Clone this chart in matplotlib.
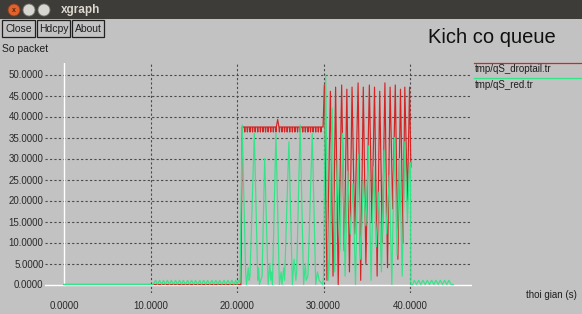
import matplotlib
matplotlib.use("Agg")
import matplotlib.pyplot as plt
from matplotlib.patches import Rectangle, Ellipse
from matplotlib.lines import Line2D

# ---------------- data ----------------
title = "Kich co queue"
y_label = "So packet"
x_label = "thoi gian (s)"
series_names = ["tmp/qS_droptail.tr", "tmp/qS_red.tr"]
x_ticks = [0, 10, 20, 30, 40]
y_ticks = [0, 5, 10, 15, 20, 25, 30, 35, 40, 45, 50]

droptail_x = [0.0, 20.45, 20.6,
              20.85, 20.9, 20.95, 21.15, 21.2, 21.25, 21.45, 21.5, 21.55, 21.75, 21.8, 21.85,
              22.05, 22.1, 22.15, 22.35, 22.4, 22.45, 22.65, 22.7, 22.75, 22.95, 23.0, 23.05,
              23.25, 23.3, 23.35, 23.55, 23.6, 23.65, 23.85, 23.9, 23.95, 24.15, 24.2, 24.25,
              24.45, 24.5, 24.55, 24.7, 24.85, 24.9, 24.95, 25.15, 25.2, 25.25,
              25.45, 25.5, 25.55, 25.75, 25.8, 25.85, 26.05, 26.1, 26.15, 26.35, 26.4, 26.45,
              26.65, 26.7, 26.75, 26.95, 27.0, 27.05, 27.25, 27.3, 27.35, 27.55, 27.6, 27.65,
              27.85, 27.9, 27.95, 28.15, 28.2, 28.25, 28.45, 28.5, 28.55, 28.75, 28.8, 28.85,
              29.05, 29.1, 29.15, 29.35, 29.4, 29.45, 29.65, 29.7, 29.75, 29.95,
              30.1, 30.4, 30.8, 31.1, 31.4, 31.7, 32.1, 32.4, 32.7, 33.0, 33.3, 33.6,
              34.0, 34.3, 34.6, 34.9, 35.3, 35.6, 35.9, 36.2, 36.5, 36.8, 37.1, 37.4,
              37.7, 38.0, 38.3, 38.6, 38.9, 39.2, 39.4, 39.7, 39.95, 40.1]
droptail_y = [0.0, 0.0, 37.5,
              37.5, 36.3, 37.5, 37.5, 36.3, 37.5, 37.5, 36.3, 37.5, 37.5, 36.3, 37.5,
              37.5, 36.3, 37.5, 37.5, 36.3, 37.5, 37.5, 36.3, 37.5, 37.5, 36.3, 37.5,
              37.5, 36.3, 37.5, 37.5, 36.3, 37.5, 37.5, 36.3, 37.5, 37.5, 36.3, 37.5,
              37.5, 36.3, 37.5, 39.3, 37.5, 36.3, 37.5, 37.5, 36.3, 37.5,
              37.5, 36.3, 37.5, 37.5, 36.3, 37.5, 37.5, 36.3, 37.5, 37.5, 36.3, 37.5,
              37.5, 36.3, 37.5, 37.5, 36.3, 37.5, 37.5, 36.3, 37.5, 37.5, 36.3, 37.5,
              37.5, 36.3, 37.5, 37.5, 36.3, 37.5, 37.5, 36.3, 37.5, 37.5, 36.3, 37.5,
              37.5, 36.3, 37.5, 37.5, 36.3, 37.5, 37.5, 36.3, 37.5, 37.5,
              47.5, 1.0, 46.0, 2.0, 47.0, 0.0, 47.5, 8.0, 46.5, 3.0, 47.0, 12.0,
              48.0, 1.0, 47.0, 5.0, 47.5, 15.0, 47.0, 2.0, 46.0, 10.0, 48.0, 4.0,
              47.0, 18.0, 47.5, 6.0, 46.5, 10.0, 47.0, 20.0, 47.0, 28.0]

red_x = [0.0, 10.0, 10.3,
         10.6, 10.8, 11.05, 11.3, 11.5, 11.7, 11.95, 12.2, 12.4, 12.65, 12.9, 13.1,
         13.35, 13.6, 13.8, 14.05, 14.3, 14.5, 14.75, 15.0, 15.2, 15.45, 15.7, 15.9,
         16.15, 16.4, 16.6, 16.85, 17.1, 17.3, 17.55, 17.8, 18.0, 18.25, 18.5, 18.7,
         18.95, 19.2, 19.4, 19.65, 19.85,
         20.0, 20.2, 20.35, 20.6, 21.0, 21.1, 21.3, 21.4, 21.5, 22.0, 22.4, 22.5, 22.6,
         22.9, 23.2, 23.6, 23.8, 23.9, 24.0, 24.1, 24.5, 24.9, 25.1, 25.2, 25.4, 25.5,
         26.0, 26.4, 26.6, 26.8, 26.9, 27.3, 27.7, 27.9, 28.0, 28.2, 28.7, 29.1, 29.3,
         29.5, 29.9,
         30.0, 30.25, 30.55, 30.7, 31.0, 31.3, 31.6, 31.9, 32.2, 32.5, 32.8, 33.1, 33.4,
         33.7, 34.0, 34.3, 34.6, 34.9, 35.2, 35.5, 35.8, 36.1, 36.4, 36.7, 37.0, 37.3,
         37.6, 37.9, 38.2, 38.5, 38.8, 39.1, 39.4, 39.7, 39.95, 40.05, 40.1, 40.3,
         40.5, 40.75, 41.0, 41.25, 41.5, 41.75, 42.0, 42.25, 42.5, 42.75, 43.0, 43.25,
         43.5, 43.75, 44.0, 44.25, 44.5, 44.75, 45.0]
red_y = [0.0, 0.0, 0.0,
         1.0, 0.0, 1.0, 0.0, 1.0, 0.0, 1.0, 0.0, 1.0, 0.0, 1.0, 0.0,
         1.0, 0.0, 1.0, 0.0, 1.0, 0.0, 1.0, 0.0, 1.0, 0.0, 1.0, 0.0,
         1.0, 0.0, 1.0, 0.0, 1.0, 0.0, 1.0, 0.0, 1.0, 0.0, 1.0, 0.0,
         1.0, 0.0, 1.0, 0.0, 1.0,
         0.0, 1.0, 0.5, 38.0, 3.0, 0.0, 4.0, 1.0, 2.0, 36.0, 1.0, 4.0, 0.0,
         2.0, 30.0, 0.0, 5.0, 1.0, 3.0, 0.0, 36.0, 0.0, 3.0, 0.0, 4.0, 1.0,
         34.0, 0.0, 6.0, 1.0, 3.0, 38.0, 0.0, 5.0, 1.0, 2.0, 36.0, 0.0, 3.0,
         1.0, 0.0,
         2.0, 50.0, 1.0, 6.0, 42.0, 3.0, 30.0, 8.0, 36.0, 2.0, 27.0, 12.0, 24.0,
         0.0, 31.0, 6.0, 25.0, 14.0, 33.0, 1.0, 28.0, 9.0, 22.0, 3.0, 32.0, 12.0,
         26.0, 0.0, 35.0, 7.0, 30.0, 2.0, 34.0, 15.0, 29.0, 29.0, 0.0, 0.0,
         1.0, 0.0, 1.0, 0.0, 1.0, 0.0, 1.0, 0.0, 1.0, 0.0, 1.0, 0.0,
         1.0, 0.0, 1.0, 0.0, 1.0, 0.0, 0.0]

# ---------------- styling ----------------
W, H = 582, 314
BG = "#c2c2c2"
RED = "#d42424"
GREEN = "#34e488"
GRID = "#4a4a4a"
TXT = "#1e1e1e"
FONT = "Liberation Sans"

def fx(px):
    return px / W

def fy(py):
    return 1 - py / H

fig = plt.figure(figsize=(W / 100, H / 100), dpi=100)
fig.patch.set_facecolor(BG)

# window title bar
fig.add_artist(Rectangle((0, fy(19)), 1, 19 / H, transform=fig.transFigure,
                         facecolor="#3d3c38", edgecolor="none"))
fig.add_artist(Ellipse((fx(14), fy(10)), 12 / W, 12 / H, transform=fig.transFigure,
                       facecolor="#e0622f", edgecolor="#8a3a1c", lw=0.6))
for cx in (29, 44):
    fig.add_artist(Ellipse((fx(cx), fy(10)), 12 / W, 12 / H, transform=fig.transFigure,
                           facecolor="#d8d6d0", edgecolor="#77766f", lw=0.6))
fig.text(fx(14), fy(10.5), "x", fontsize=5, color="#5a2410", ha="center", va="center",
         family=FONT, fontweight="bold")
fig.text(fx(61), fy(10), "xgraph", fontsize=8.5, color="#dcd8cf", ha="left", va="center",
         family=FONT, fontweight="bold")

# buttons
for label, x0, x1 in (("Close", 2, 35), ("Hdcpy", 37, 70), ("About", 72, 104)):
    fig.add_artist(Rectangle((fx(x0), fy(37)), (x1 - x0) / W, 17 / H,
                             transform=fig.transFigure, facecolor=BG,
                             edgecolor="#202020", lw=0.9))
    fig.text(fx((x0 + x1) / 2), fy(28.5), label, fontsize=7.5, color=TXT,
             ha="center", va="center", family=FONT)

fig.text(fx(556), fy(43), title, fontsize=14.5, color="#101010",
         ha="right", va="baseline", family=FONT)
fig.text(fx(2), fy(52), y_label, fontsize=7.5, color=TXT, ha="left",
         va="baseline", family=FONT)
fig.text(fx(526), fy(298), x_label, fontsize=7, color=TXT, ha="left",
         va="baseline", family=FONT)

# legend
fig.add_artist(Line2D([fx(474), fx(582)], [fy(62.7), fy(62.7)],
                      transform=fig.transFigure, color=RED, lw=0.9))
fig.add_artist(Line2D([fx(474), fx(582)], [fy(78.3), fy(78.3)],
                      transform=fig.transFigure, color=GREEN, lw=0.9))
fig.text(fx(475), fy(72.5), series_names[0], fontsize=7, color=TXT,
         ha="left", va="baseline", family=FONT)
fig.text(fx(475), fy(88), series_names[1], fontsize=7, color=TXT,
         ha="left", va="baseline", family=FONT)

# plot area
ax = fig.add_axes([fx(45), fy(293), 427 / W, 230 / H])
ax.set_facecolor("none")
ax.set_xlim(-19 / 8.65, 408 / 8.65)
ax.set_ylim(-8.5 / 4.2, 221.5 / 4.2)
for s in ax.spines.values():
    s.set_visible(False)

for yv in y_ticks[1:]:
    ax.axhline(yv, color=GRID, lw=0.8, ls=(0, (2, 2)), zorder=1)
for xv in x_ticks[1:]:
    ax.axvline(xv, color=GRID, lw=0.8, ls=(0, (2, 2)), zorder=1)
ylo, yhi = ax.get_ylim()
ax.axhline(0, color="white", lw=1.0, zorder=2)
ax.axvline(0, ymin=(0 - ylo) / (yhi - ylo), ymax=1, color="white", lw=1.0, zorder=2)

ax.plot(droptail_x, droptail_y, color=RED, lw=0.85, zorder=3)
ax.plot(red_x, red_y, color=GREEN, lw=0.85, zorder=4)

ax.set_xticks(x_ticks)
ax.set_xticklabels([f"{v:.4f}" for v in x_ticks])
ax.set_yticks(y_ticks)
ax.set_yticklabels([f"{v:.4f}" for v in y_ticks])
ax.tick_params(axis="both", length=0, labelsize=7, labelcolor="#2a2a2a")
ax.tick_params(axis="x", pad=6)
ax.tick_params(axis="y", pad=1)
for lab in ax.get_xticklabels() + ax.get_yticklabels():
    lab.set_family(FONT)

fig.savefig("out.png", dpi=100, facecolor=BG)
